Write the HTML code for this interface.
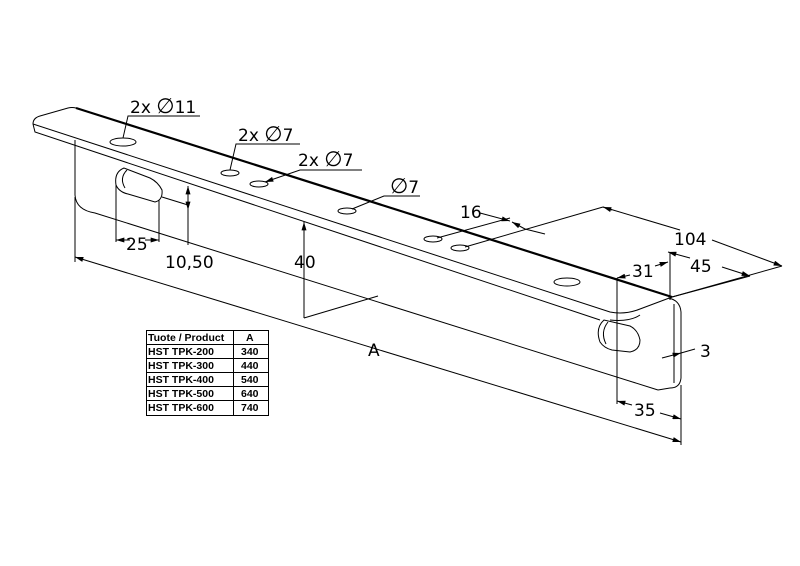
<!DOCTYPE html>
<html><head><style>
body{margin:0;background:#fff}
svg{display:block}
text{font-family:"DejaVu Sans","Liberation Sans",sans-serif;fill:#000}
.t{font-family:"Liberation Sans",sans-serif;font-weight:bold;font-size:10.5px}
</style></head><body>
<svg width="800" height="566" viewBox="0 0 800 566" xmlns="http://www.w3.org/2000/svg">
<defs><marker id="a" viewBox="0 0 10 6" refX="10" refY="3" markerWidth="9" markerHeight="5" orient="auto-start-reverse"><path d="M0,0L10,3L0,6z" fill="#000"/></marker></defs>
<g fill="none" stroke="#000" stroke-width="1">
<path d="M33,124 Q33,118 40,116 L68,108 Q72,107 76,108"/>
<path d="M76,108 L672,297" stroke-width="2.2"/>
<path d="M33,124 L610,312 Q625,315 640,309 L672,297"/>
<path d="M33,124 L35,132 L600,320"/>
<path d="M610,320 Q630,322 640,315"/>
<path d="M75,140 L75,195 Q76,210 95,213 L658,390"/>
<path d="M668,298 Q680,300 681,312 L681,378 Q680,388 670,388 L658,390"/>
<path d="M674,304 L674,383"/>
<path d="M124,168 Q114,172 116,185 Q119,192 128,194 L155,202 Q163,200 162,190 Q158,182 150,178 Z"/>
<path d="M127,170 Q119,178 125,188"/>
<path d="M604,320 Q595,328 600,342 Q604,348 612,350 L630,352 Q640,350 640,340 Q638,330 630,326 Z"/>
<path d="M608,322 Q600,332 606,344"/>
<ellipse cx="123" cy="142" rx="13" ry="4"/>
<ellipse cx="230" cy="173" rx="9" ry="3"/>
<ellipse cx="259" cy="184" rx="9" ry="3"/>
<ellipse cx="347" cy="211" rx="9" ry="3"/>
<ellipse cx="433" cy="239" rx="9" ry="3"/>
<ellipse cx="460" cy="248" rx="9" ry="3"/>
<ellipse cx="567" cy="282" rx="13" ry="4"/>
<path d="M123,138 L128,116 L200,116"/>
<path d="M230,170 L236,144 L300,144"/>
<path d="M265,182 L300,170 L362,170" marker-start="url(#a)"/>
<path d="M352,209 L384,196 L420,196"/>
<path d="M75,197 L75,262"/>
<path d="M681,385 L681,445"/>
<path d="M75,257 L681,442" marker-start="url(#a)" marker-end="url(#a)"/>
<path d="M116,185 L116,242"/><path d="M159,200 L159,242"/>
<path d="M116,240 L130,240" marker-start="url(#a)"/><path d="M145,240 L159,240" marker-end="url(#a)"/>
<path d="M162,197 L188,205"/>
<path d="M188,186 L188,210" marker-start="url(#a)" marker-end="url(#a)"/>
<path d="M188,210 L188,245"/>
<path d="M304,222 L304,318" marker-start="url(#a)"/>
<path d="M304,318 L378,296"/>
<path d="M437,238 L510,218"/>
<path d="M465,247 L603,207"/>
<path d="M480,213 L510,221" marker-end="url(#a)"/>
<path d="M525,229 L545,234"/>
<path d="M512,222 L525,229" marker-start="url(#a)"/>
<path d="M603,207 L680,230"/><path d="M712,240 L782,266" marker-end="url(#a)"/>
<path d="M603,207 L612,210" marker-start="url(#a)"/>
<path d="M672,297 L782,266"/>
<path d="M672,297 L750,276"/>
<path d="M668,252 L690,258" marker-start="url(#a)"/><path d="M722,267 L750,276" marker-end="url(#a)"/>
<path d="M670,252 L670,300"/>
<path d="M617,278 L617,404"/>
<path d="M617,278 L630,275" marker-start="url(#a)"/><path d="M655,266 L668,262" marker-end="url(#a)"/>
<path d="M617,401 L632,405" marker-start="url(#a)"/><path d="M660,413 L681,419" marker-end="url(#a)"/>
<path d="M662,358 L681,353" marker-end="url(#a)"/><path d="M681,353 L695,349"/>
</g>
<g font-size="17">
<text x="130" y="113">2x <tspan font-size="21">∅</tspan>11</text>
<text x="238" y="141">2x <tspan font-size="21">∅</tspan>7</text>
<text x="298" y="166">2x <tspan font-size="21">∅</tspan>7</text>
<text x="390" y="193"><tspan font-size="21">∅</tspan>7</text>
<text x="460" y="218">16</text>
<text x="126" y="250">25</text>
<text x="165" y="268">10,50</text>
<text x="294" y="268">40</text>
<text x="368" y="356">A</text>
<text x="674" y="245">104</text>
<text x="690" y="272">45</text>
<text x="632" y="277">31</text>
<text x="700" y="357">3</text>
<text x="634" y="416">35</text>
</g>
<g stroke="#000" stroke-width="1" fill="none">
<rect x="146.5" y="330.5" width="122" height="85"/>
<path d="M233.5,330.5V415.5M146.5,344.5H268.5M146.5,358.5H268.5M146.5,372.5H268.5M146.5,386.5H268.5M146.5,400.5H268.5"/>
</g>
<g>
<text x="148" y="341" class="t">Tuote / Product</text><text x="246" y="341" class="t">A</text>
<text x="148" y="355" class="t">HST TPK-200</text><text x="241" y="355" class="t">340</text>
<text x="148" y="369" class="t">HST TPK-300</text><text x="241" y="369" class="t">440</text>
<text x="148" y="383" class="t">HST TPK-400</text><text x="241" y="383" class="t">540</text>
<text x="148" y="397" class="t">HST TPK-500</text><text x="241" y="397" class="t">640</text>
<text x="148" y="411" class="t">HST TPK-600</text><text x="241" y="411" class="t">740</text>
</g>
</svg>
</body></html>
